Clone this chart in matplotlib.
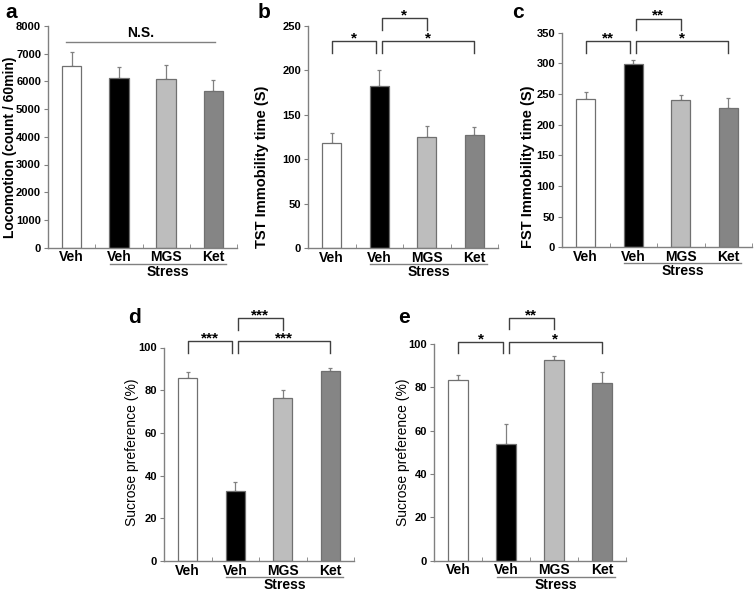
import matplotlib.pyplot as plt
from matplotlib import transforms

plt.rcParams['font.family'] = ['Liberation Sans', 'DejaVu Sans']

groups = ['Veh', 'Veh', 'MGS', 'Ket']
bar_colors = ['white', 'black', '#bdbdbd', '#858585']

loco_mean = [6560, 6110, 6080, 5660]
loco_err = [510, 420, 510, 390]
tst_mean = [119, 183, 125.5, 127]
tst_err = [11, 18, 12.5, 9]
fst_mean = [242, 299, 239.5, 228]
fst_err = [11.5, 7, 9, 16]
sp1_mean = [85.8, 32.8, 76.4, 88.9]
sp1_err = [2.5, 4.2, 3.9, 1.6]
sp2_mean = [83.4, 54, 92.6, 81.9]
sp2_err = [2.3, 9, 2, 5]

# significance marks: (x1, x2, top, bottom, label)
sig_b = [(0, 0.94, 233, 220, '*'), (1.06, 3, 233, 220, '*'), (1.06, 2, 258.6, 245.5, '*')]
sig_c = [(0, 0.94, 336, 317, '**'), (1.06, 3, 336, 317, '*'), (1.06, 2, 373, 355, '**')]
sig_d = [(0, 0.94, 103, 97.5, '***'), (1.06, 3, 103, 97.5, '***'), (1.06, 2, 113.6, 108.4, '***')]
sig_e = [(0, 0.94, 101, 96, '*'), (1.06, 3, 101, 96, '*'), (1.06, 2, 112, 107, '**')]

fig = plt.figure(figsize=(7.55, 5.91), dpi=100)
W, H = 755, 591


def add_axes(left, right, top, bottom):
    return fig.add_axes([left / W, 1 - bottom / H, (right - left) / W, (bottom - top) / H])


def draw_panel(ax, mean, err, ymax, ystep, ylabel, sigs, lab_xy, lab_size, lab_weight):
    x = range(len(groups))
    ax.bar(x, mean, width=0.41, color=bar_colors, edgecolor='#707070', linewidth=0.9, zorder=2)
    ax.errorbar(x, mean, yerr=[[0] * len(err), err], fmt='none', ecolor='#808080',
                elinewidth=0.9, capsize=1.5, capthick=0.9, zorder=1)
    ax.set_xlim(-0.5, 3.5)
    ax.set_ylim(0, ymax)
    ax.set_yticks(range(0, ymax + 1, ystep))
    ax.set_xticks(list(x))
    ax.set_xticks([0.5, 1.5, 2.5, 3.5], minor=True)
    ax.set_xticklabels(groups, fontsize=10, fontweight='bold')
    for t in ax.get_yticklabels():
        t.set_fontweight('bold')
        t.set_fontsize(8)
    ax.tick_params(axis='x', which='major', length=0, pad=2)
    ax.tick_params(axis='x', which='minor', length=3, direction='in', color='#808080')
    ax.tick_params(axis='y', length=3, color='#808080', pad=2)
    for s in ['top', 'right']:
        ax.spines[s].set_visible(False)
    for s in ['left', 'bottom']:
        ax.spines[s].set_color('#808080')
        ax.spines[s].set_linewidth(1.0)
    ax.set_ylabel(ylabel, fontsize=lab_size, fontweight=lab_weight, va='center')
    ax.yaxis.set_label_coords(*lab_xy)

    trans = transforms.blended_transform_factory(ax.transData, ax.transAxes)
    line_tr = transforms.offset_copy(trans, fig=fig, y=-16, units='dots')
    ax.plot([0.81, 3.27], [0, 0], color='#808080', lw=1.0, transform=line_tr, clip_on=False)
    txt_tr = transforms.offset_copy(trans, fig=fig, y=-24, units='dots')
    ax.text(2.04, 0, 'Stress', transform=txt_tr, ha='center', va='center',
            fontsize=10, fontweight='bold')

    for x1, x2, top, bot, lab in sigs:
        ax.plot([x1, x1, x2, x2], [bot, top, top, bot], color='#404040', lw=1.0, clip_on=False)
        ax.annotate(lab, ((x1 + x2) / 2, top), xytext=(0, 2), textcoords='offset points',
                    ha='center', va='center', fontsize=11, fontweight='bold', annotation_clip=False)


ax_a = add_axes(48, 237, 26, 247.6)
draw_panel(ax_a, loco_mean, loco_err, 8000, 1000, 'Locomotion (count / 60min)', [],
           (-0.2, 0.454), 10, 'bold')
ax_a.plot([-0.11, 3.03], [7420, 7420], color='#808080', lw=1.0)
ax_a.text(1.46, 7480, 'N.S.', ha='center', va='bottom', fontsize=10, fontweight='bold')

ax_b = add_axes(308, 498, 26, 248.5)
draw_panel(ax_b, tst_mean, tst_err, 250, 50, 'TST Immobility time (S)', sig_b,
           (-0.24, 0.368), 10.5, 'bold')

ax_c = add_axes(562, 752, 32.7, 247.3)
draw_panel(ax_c, fst_mean, fst_err, 350, 50, 'FST Immobility time (S)', sig_c,
           (-0.18, 0.374), 10.5, 'bold')

ax_d = add_axes(164, 354, 347.5, 561)
draw_panel(ax_d, sp1_mean, sp1_err, 100, 20, 'Sucrose preference (%)', sig_d,
           (-0.17, 0.508), 10, 'normal')

ax_e = add_axes(434, 626, 344, 560.7)
draw_panel(ax_e, sp2_mean, sp2_err, 100, 20, 'Sucrose preference (%)', sig_e,
           (-0.16, 0.5), 10, 'normal')

# panel letters (figure pixel positions, baseline)
for letter, px, py in [('a', 5, 18), ('b', 258, 18), ('c', 512, 18), ('d', 128, 323), ('e', 398, 323)]:
    fig.text(px / W, 1 - py / H, letter, fontsize=15, fontweight='bold', ha='left', va='baseline')

plt.savefig('out.png', dpi=100)
plt.close()
